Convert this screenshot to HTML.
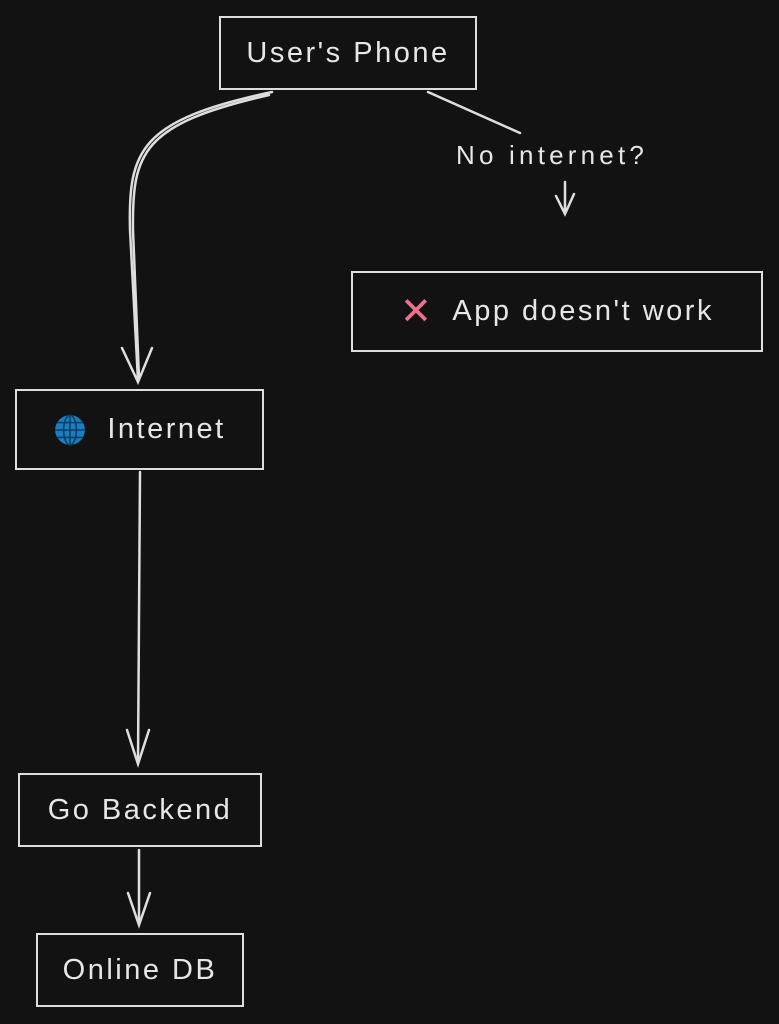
<!DOCTYPE html>
<html><head><meta charset="utf-8"><style>
html,body{margin:0;padding:0;background:#121212;}
body{width:779px;height:1024px;position:relative;overflow:hidden;font-family:"Liberation Sans",sans-serif;color:#e6e6e6;}
.b{position:absolute;border:2px solid #dedede;box-sizing:border-box;display:flex;align-items:center;justify-content:center;font-size:29px;letter-spacing:2.5px;}
.l{position:absolute;font-size:26px;letter-spacing:4.2px;}
</style></head><body>
<svg width="779" height="1024" style="position:absolute;left:0;top:0" fill="none" stroke="#dedede" stroke-width="2.5" stroke-linecap="round">
<path d="M272 92 C 140 120, 128 150, 130 230 L 138 380"/>
<path d="M269 95 C 142 124, 132 152, 133 230 L 139 378"/>
<path d="M122 348 L138 382 L152 348"/>
<path d="M428 92 L520 133"/>
<path d="M565 182 L565 214 M556 196 L565 214 L574 194"/>
<path d="M140 472 L138 762"/>
<path d="M127 730 L138 764 L149 730"/>
<path d="M139 850 L139 923"/>
<path d="M128 893 L139 925 L150 893"/>
</svg>
<div class="b" style="left:219px;top:16px;width:258px;height:74px">User's Phone</div>
<div class="l" style="left:456px;top:140px">No internet?</div>
<div class="b" style="left:351px;top:271px;width:412px;height:81px"><span style="color:#f0708a;font-size:38px;margin-right:18px">✕</span>App doesn't work</div>
<div class="b" style="left:15px;top:389px;width:249px;height:81px"><svg width="34" height="34" viewBox="0 0 32 32" style="margin-right:20px"><circle cx="16" cy="16" r="14" fill="#1a7fc0"/><g stroke="#0b3d66" stroke-width="1.5" fill="none"><ellipse cx="16" cy="16" rx="6" ry="14"/><line x1="2" y1="16" x2="30" y2="16"/><line x1="4" y1="9" x2="28" y2="9"/><line x1="4" y1="23" x2="28" y2="23"/><line x1="16" y1="2" x2="16" y2="30"/></g></svg>Internet</div>
<div class="b" style="left:18px;top:773px;width:244px;height:74px">Go Backend</div>
<div class="b" style="left:36px;top:933px;width:208px;height:74px">Online DB</div>
</body></html>
